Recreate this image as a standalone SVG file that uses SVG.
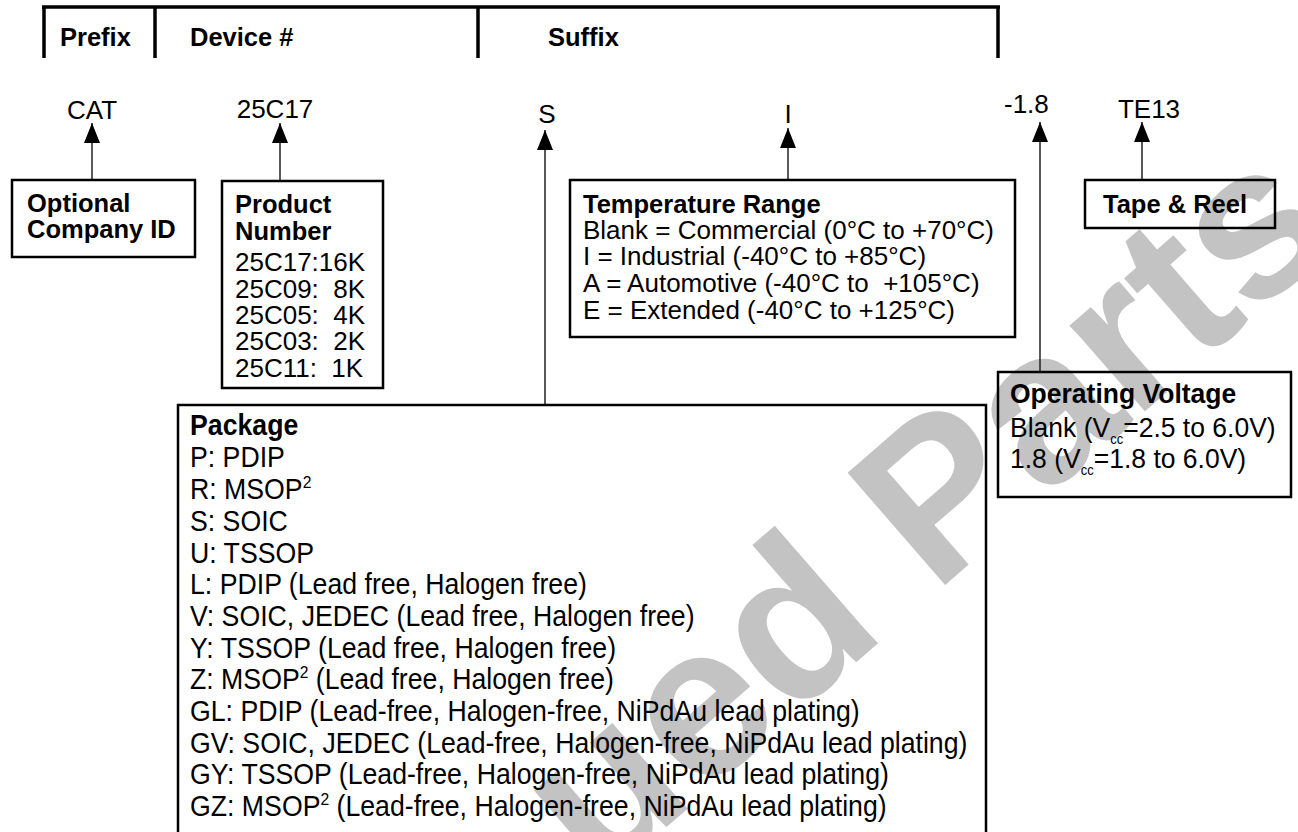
<svg xmlns="http://www.w3.org/2000/svg" width="1298" height="832" viewBox="0 0 1298 832">
<style>
text{font-family:"Liberation Sans",Arial,sans-serif;fill:#000;white-space:pre}
.b{font-weight:bold;font-size:25.5px}
.r{font-size:26px}
.box{fill:none;stroke:#000;stroke-width:2.5}
.hdr{stroke:#000;stroke-width:3.5;fill:none}
.con{stroke:#222;stroke-width:1.5;fill:none}
.wm{font-weight:bold;font-size:216px;fill:#c3c3c3}
</style>
<defs>
<marker id="ah" viewBox="0 0 20 16" refX="20" refY="8" markerWidth="20" markerHeight="16" markerUnits="userSpaceOnUse" orient="auto"><path d="M0,0 L20,8 L0,16 z" fill="#000"/></marker>
</defs>
<rect width="1298" height="832" fill="#fff"/>
<text class="wm" x="1342" y="240" transform="rotate(-41 1342 240)" text-anchor="end">ued Parts</text>

<g id="header">
<path class="hdr" d="M42,7 H1000 M44,7 V58 M155,7 V58 M478,7 V58 M998,7 V58"/>
<text class="b" x="60" y="46">Prefix</text>
<text class="b" x="190" y="46">Device #</text>
<text class="b" x="548" y="46">Suffix</text>
</g>

<g id="codes">
<text class="r" x="92" y="119" text-anchor="middle">CAT</text>
<text class="r" x="275" y="118" text-anchor="middle">25C17</text>
<text class="r" x="547" y="123" text-anchor="middle">S</text>
<text class="r" x="788" y="123" text-anchor="middle">I</text>
<text class="r" x="1004" y="113">-1.8</text>
<text class="r" x="1149" y="118" text-anchor="middle">TE13</text>
</g>

<g id="connectors">
<line class="con" x1="92" y1="180" x2="92" y2="123" marker-end="url(#ah)"/>
<line class="con" x1="280" y1="181" x2="280" y2="123" marker-end="url(#ah)"/>
<line class="con" x1="545" y1="405" x2="545" y2="130" marker-end="url(#ah)"/>
<line class="con" x1="788" y1="180" x2="788" y2="128" marker-end="url(#ah)"/>
<line class="con" x1="1040" y1="372" x2="1040" y2="122" marker-end="url(#ah)"/>
<line class="con" x1="1142" y1="180" x2="1142" y2="122" marker-end="url(#ah)"/>
</g>

<g id="company-id">
<rect class="box" x="12" y="180" width="183" height="77"/>
<text class="b" x="27" y="212">Optional</text>
<text class="b" x="27" y="238">Company ID</text>
</g>

<g id="product-number">
<rect class="box" x="222" y="181" width="161" height="207"/>
<text class="b" x="235" y="213">Product</text>
<text class="b" x="235" y="240">Number</text>
<text class="r" x="235" y="271">25C17:16K</text>
<text class="r" x="235" y="298">25C09:&#160; 8K</text>
<text class="r" x="235" y="324">25C05:&#160; 4K</text>
<text class="r" x="235" y="350">25C03:&#160; 2K</text>
<text class="r" x="235" y="377">25C11:&#160; 1K</text>
</g>

<g id="temperature-range">
<rect class="box" x="570" y="180" width="445" height="157"/>
<text class="b" x="583" y="213">Temperature Range</text>
<text class="r" x="583" y="239">Blank = Commercial (0°C to +70°C)</text>
<text class="r" x="583" y="265">I = Industrial (-40°C to +85°C)</text>
<text class="r" x="583" y="292">A = Automotive (-40°C to&#160; +105°C)</text>
<text class="r" x="583" y="319">E = Extended (-40°C to +125°C)</text>
</g>

<g id="tape-reel">
<rect class="box" x="1085" y="180" width="190" height="48"/>
<text class="b" x="1103" y="213">Tape &amp; Reel</text>
</g>

<g id="operating-voltage">
<rect class="box" x="998" y="372" width="293" height="125"/>
<g transform="translate(1010,0) scale(0.93,1)" font-size="28.5">
<text x="0" y="403" font-weight="bold">Operating Voltage</text>
<text x="0" y="437">Blank (V<tspan font-size="14" dy="7">cc</tspan><tspan dy="-7">=2.5 to 6.0V)</tspan></text>
<text x="0" y="468">1.8 (V<tspan font-size="14" dy="7">cc</tspan><tspan dy="-7">=1.8 to 6.0V)</tspan></text>
</g>
</g>

<g id="package">
<path class="box" d="M178,840 V405 H986 V840"/>
<g transform="translate(190,0) scale(0.92,1)" font-size="29">
<text x="0" y="435" font-weight="bold">Package</text>
<text x="0" y="467">P: PDIP</text>
<text x="0" y="499">R: MSOP<tspan font-size="17" dy="-11">2</tspan></text>
<text x="0" y="531">S: SOIC</text>
<text x="0" y="563">U: TSSOP</text>
<text x="0" y="594">L: PDIP (Lead free, Halogen free)</text>
<text x="0" y="626">V: SOIC, JEDEC (Lead free, Halogen free)</text>
<text x="0" y="658">Y: TSSOP (Lead free, Halogen free)</text>
<text x="0" y="689">Z: MSOP<tspan font-size="17" dy="-11">2</tspan><tspan dy="11"> (Lead free, Halogen free)</tspan></text>
<text x="0" y="721">GL: PDIP (Lead-free, Halogen-free, NiPdAu lead plating)</text>
<text x="0" y="753">GV: SOIC, JEDEC (Lead-free, Halogen-free, NiPdAu lead plating)</text>
<text x="0" y="784">GY: TSSOP (Lead-free, Halogen-free, NiPdAu lead plating)</text>
<text x="0" y="816">GZ: MSOP<tspan font-size="17" dy="-11">2</tspan><tspan dy="11"> (Lead-free, Halogen-free, NiPdAu lead plating)</tspan></text>
</g>
</g>
</svg>
